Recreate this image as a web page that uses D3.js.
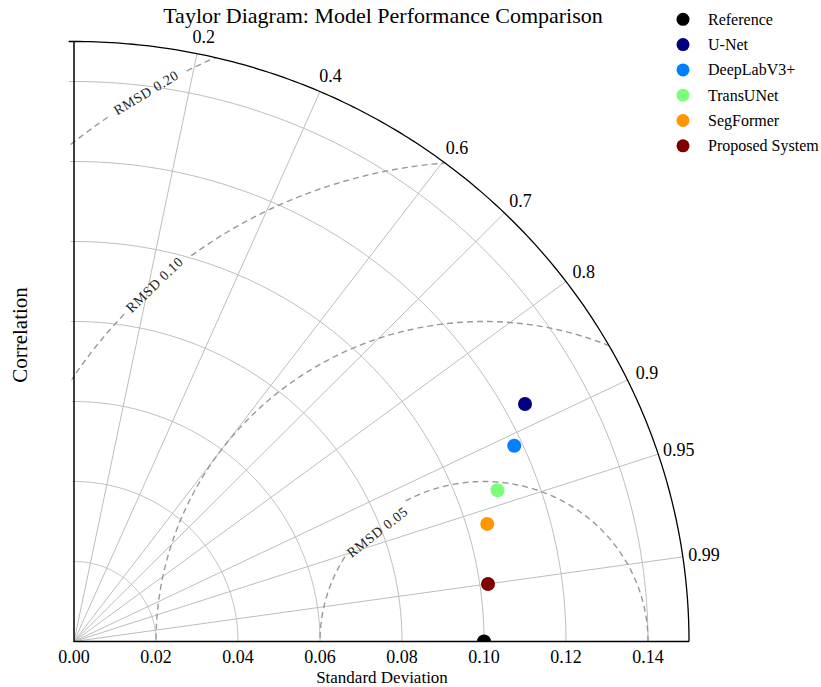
<!DOCTYPE html>
<html>
<head>
<meta charset="utf-8">
<script src="https://cdn.jsdelivr.net/npm/d3@7"></script>
<style>
  body { margin: 0; background: #fff; }
  text { font-family: "Liberation Serif", "DejaVu Serif", serif; }
</style>
</head>
<body>
<div id="chart"></div>
<script>
const models = ["Reference", "U-Net", "DeepLabV3+", "TransUNet", "SegFormer", "Proposed System"];
const stdDevs = [0.100, 0.125, 0.118, 0.110, 0.105, 0.102];
const correlations = [1.0, 0.880, 0.910, 0.939, 0.960, 0.990];
const modelColors = ["#000000", "#000080", "#0080ff", "#7bff7b", "#ff9700", "#800000"];

const stdTicks = [0, 0.02, 0.04, 0.06, 0.08, 0.10, 0.12, 0.14];
const corrTicks = [0.2, 0.4, 0.6, 0.7, 0.8, 0.9, 0.95, 0.99];
const rmsdRadii = [0.04, 0.08, 0.12, 0.16];
const rmsdLabels = ["RMSD 0.05", "", "RMSD 0.10", "RMSD 0.20"];
const refStd = 0.10;
const maxStd = 0.15;

const width = 821;
const height = 687;

const x = d3.scaleLinear().domain([0, maxStd]).range([74, 689]);
const y = d3.scaleLinear().domain([0, maxStd]).range([641.5, 41.5]);

const svg = d3.select('#chart')
  .append('svg')
  .attr('width', width)
  .attr('height', height);

const line = d3.line().x(d => x(d[0])).y(d => y(d[1]));
const quarter = d3.range(0, 91, 0.5).map(a => a * Math.PI / 180);

// clip to the quarter disc
svg.append('clipPath').attr('id', 'quad')
  .append('path')
  .attr('d', line([[0, 0]].concat(quarter.map(a => [maxStd * Math.cos(a), maxStd * Math.sin(a)]))) + 'Z');

const plot = svg.append('g').attr('clip-path', 'url(#quad)');

// std dev arcs
plot.selectAll('.std-arc')
  .data(stdTicks.filter(d => d > 0))
  .enter()
  .append('path')
  .attr('class', 'std-arc')
  .attr('d', r => line(quarter.map(a => [r * Math.cos(a), r * Math.sin(a)])))
  .attr('fill', 'none')
  .attr('stroke', '#bdbdbd')
  .attr('stroke-width', 1);

// correlation rays
plot.selectAll('.corr-ray')
  .data(corrTicks)
  .enter()
  .append('path')
  .attr('class', 'corr-ray')
  .attr('d', c => line([[0, 0], [maxStd * c, maxStd * Math.sqrt(1 - c * c)]]))
  .attr('stroke', '#bdbdbd')
  .attr('stroke-width', 1);

// RMSD circles around the reference point
const labelAngle = [133.6, 0, 132, 121];
const labelRot = [-38, 0, -44, -31];
const labelInset = [0.0023, 0, 0, 0];

rmsdRadii.forEach((r, i) => {
  const a0 = labelAngle[i] * Math.PI / 180;
  const gap = 80 / (r * 4050);
  const pts = d3.range(0, 180.5, 0.5).map(a => a * Math.PI / 180);
  const parts = rmsdLabels[i]
    ? [pts.filter(a => a < a0 - gap / 2), pts.filter(a => a > a0 + gap / 2)]
    : [pts];
  parts.forEach(p => {
    plot.append('path')
      .attr('d', line(p.map(a => [refStd + r * Math.cos(a), r * Math.sin(a)])))
      .attr('fill', 'none')
      .attr('stroke', '#999')
      .attr('stroke-width', 1.4)
      .attr('stroke-dasharray', '6,4');
  });
  if (rmsdLabels[i]) {
    const rl = r - labelInset[i];
    const lx = x(refStd + rl * Math.cos(a0));
    const ly = y(rl * Math.sin(a0));
    svg.append('text')
      .attr('transform', `translate(${lx},${ly}) rotate(${labelRot[i]})`)
      .attr('text-anchor', 'middle')
      .attr('dominant-baseline', 'central')
      .attr('font-size', 14)
      .attr('letter-spacing', 0.6)
      .attr('fill', '#222')
      .text(rmsdLabels[i]);
  }
});

// points
plot.selectAll('.pt')
  .data(models)
  .enter()
  .append('circle')
  .attr('class', 'pt')
  .attr('cx', (d, i) => x(stdDevs[i] * correlations[i]))
  .attr('cy', (d, i) => y(stdDevs[i] * Math.sqrt(1 - correlations[i] * correlations[i])))
  .attr('r', 7)
  .attr('fill', (d, i) => modelColors[i]);

// frame
svg.append('path')
  .attr('d', line(quarter.map(a => [maxStd * Math.cos(a), maxStd * Math.sin(a)])))
  .attr('fill', 'none')
  .attr('stroke', '#000')
  .attr('stroke-width', 1.3);

svg.append('path')
  .attr('d', line([[0, maxStd], [0, 0], [maxStd, 0]]))
  .attr('fill', 'none')
  .attr('stroke', '#000')
  .attr('stroke-width', 1.5);

// x tick labels
svg.selectAll('.xtick')
  .data(stdTicks)
  .enter()
  .append('text')
  .attr('x', d => x(d))
  .attr('y', 663)
  .attr('text-anchor', 'middle')
  .attr('font-size', 18)
  .text(d => d3.format('.2f')(d));

// correlation labels
svg.selectAll('.ctick')
  .data(corrTicks)
  .enter()
  .append('text')
  .attr('x', c => x(0.1545 * c) + 3)
  .attr('y', c => y(0.1545 * Math.sqrt(1 - c * c)) + 1)
  .attr('text-anchor', 'middle')
  .attr('dominant-baseline', 'central')
  .attr('font-size', 18)
  .text(c => String(c));

// titles
svg.append('text')
  .attr('x', 383)
  .attr('y', 22.5)
  .attr('text-anchor', 'middle')
  .attr('font-size', 22)
  .text('Taylor Diagram: Model Performance Comparison');

svg.append('text')
  .attr('x', 382)
  .attr('y', 683)
  .attr('text-anchor', 'middle')
  .attr('font-size', 17)
  .text('Standard Deviation');

svg.append('text')
  .attr('transform', 'translate(27,335) rotate(-90)')
  .attr('text-anchor', 'middle')
  .attr('font-size', 21)
  .text('Correlation');

// legend
const legend = svg.append('g');
models.forEach((m, i) => {
  const ly = 19.3 + i * 25.3;
  legend.append('circle')
    .attr('cx', 683)
    .attr('cy', ly)
    .attr('r', 6.5)
    .attr('fill', modelColors[i]);
  legend.append('text')
    .attr('x', 708)
    .attr('y', ly)
    .attr('dominant-baseline', 'central')
    .attr('font-size', 16)
    .text(m);
});
</script>
</body>
</html>
